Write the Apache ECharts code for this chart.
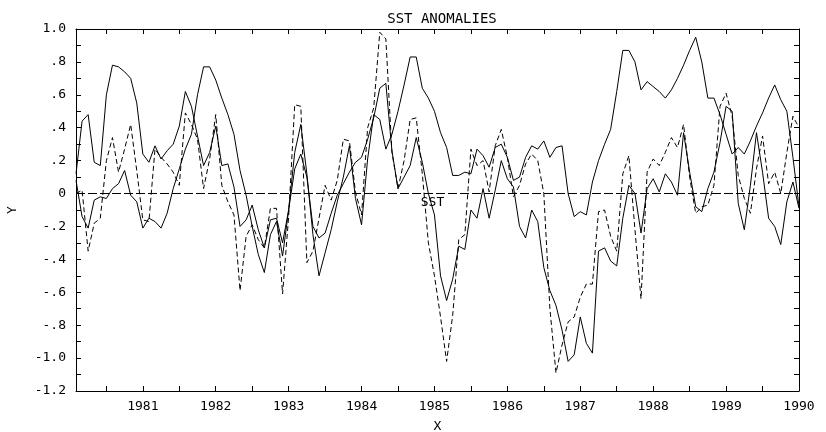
<!DOCTYPE html>
<html>
	<head>
		<meta charset="utf-8" />
		<title>SST ANOMALIES</title>
		<script src="https://cdn.jsdelivr.net/npm/echarts@6/dist/echarts.min.js"></script>
		<style>
			body { margin: 0; background: #fff; }
			#chart { width: 826px; height: 432px; }
		</style>
	</head>
	<body>
		<div id="chart"></div>
	<script type="text/javascript">
		// monthly values, Feb 1980 .. Jan 1990 (plotted at 1980 + n/12)
		var startYear = 1980;
		var solid1 = [0.12,0.44,0.48,0.19,0.17,0.60,0.78,0.77,0.74,0.70,0.55,0.24,
			0.19,0.29,0.21,0.26,0.30,0.41,0.62,0.53,0.35,0.17,0.25,0.41,
			0.17,0.18,0.04,-0.20,-0.16,-0.07,-0.22,-0.33,-0.16,-0.15,-0.30,-0.10,
			0.15,0.24,0.10,-0.20,-0.27,-0.24,-0.12,-0.01,0.06,0.13,0.19,0.22,
			0.33,0.46,0.64,0.67,0.26,0.03,0.10,0.17,0.34,0.19,0.00,-0.13,
			-0.50,-0.65,-0.52,-0.32,-0.34,-0.10,-0.15,0.03,-0.15,0.02,0.20,0.09,
			0.04,-0.20,-0.27,-0.10,-0.17,-0.45,-0.59,-0.68,-0.83,-1.02,-0.98,-0.75,
			-0.91,-0.97,-0.35,-0.33,-0.41,-0.44,-0.15,0.05,0.00,-0.24,0.03,0.09,
			0.01,0.12,0.07,-0.01,0.37,0.13,-0.08,-0.11,0.03,0.13,0.31,0.53,
			0.50,-0.06,-0.22,0.05,0.37,0.13,-0.15,-0.20,-0.31,-0.05,0.07,-0.09];
		var solid2 = [0.08,-0.14,-0.21,-0.04,-0.02,-0.03,0.03,0.06,0.14,-0.01,-0.05,-0.21,
			-0.15,-0.17,-0.21,-0.12,0.03,0.15,0.27,0.36,0.60,0.77,0.77,0.69,
			0.58,0.48,0.36,0.14,-0.01,-0.20,-0.37,-0.48,-0.25,-0.17,-0.38,-0.10,
			0.25,0.42,0.12,-0.25,-0.50,-0.36,-0.22,-0.05,0.10,0.29,-0.03,-0.19,
			0.21,0.48,0.45,0.27,0.36,0.50,0.66,0.83,0.83,0.64,0.58,0.50,
			0.37,0.28,0.11,0.11,0.13,0.12,0.27,0.23,0.16,0.28,0.30,0.22,
			0.08,0.10,0.22,0.29,0.27,0.32,0.22,0.28,0.29,0.00,-0.14,-0.11,
			-0.13,0.07,0.20,0.30,0.39,0.62,0.87,0.87,0.80,0.63,0.68,0.65,
			0.62,0.58,0.63,0.70,0.78,0.87,0.95,0.80,0.58,0.58,0.48,0.36,
			0.24,0.28,0.24,0.32,0.41,0.49,0.58,0.66,0.57,0.50,0.22,-0.08];
		var dashed = [0.00,0.02,-0.35,-0.18,-0.15,0.20,0.34,0.13,0.27,0.42,0.14,-0.16,
			-0.17,0.27,0.22,0.18,0.13,0.05,0.49,0.42,0.33,0.03,0.21,0.48,
			0.05,-0.05,-0.13,-0.59,-0.26,-0.19,-0.28,-0.33,-0.09,-0.09,-0.61,-0.14,
			0.54,0.53,-0.42,-0.35,-0.15,0.05,-0.04,0.08,0.33,0.32,0.01,-0.13,
			0.40,0.52,0.98,0.94,0.25,0.03,0.20,0.45,0.46,0.12,-0.30,-0.50,
			-0.75,-1.02,-0.74,-0.28,-0.25,0.27,0.17,0.20,0.01,0.29,0.39,0.22,
			-0.02,0.05,0.18,0.24,0.20,0.00,-0.70,-1.09,-0.92,-0.78,-0.75,-0.63,
			-0.55,-0.55,-0.11,-0.10,-0.26,-0.35,0.12,0.23,-0.22,-0.64,0.13,0.21,
			0.17,0.25,0.34,0.28,0.42,0.10,-0.12,-0.08,-0.07,0.05,0.53,0.61,
			0.47,0.11,-0.03,-0.12,0.15,0.35,0.06,0.13,0.00,0.25,0.47,0.40];

		var yearLabels = [1981,1982,1983,1984,1985,1986,1987,1988,1989,1990];
		var xTicks = [1980.5,1981,1981.5,1982,1982.5,1983,1983.5,1984,1984.5,1985,
			1985.5,1986,1986.5,1987,1987.5,1988,1988.5,1989,1989.5,1990];
		var yTicks = [-1.2,-1.1,-1.0,-0.9,-0.8,-0.7,-0.6,-0.5,-0.4,-0.3,-0.2,-0.1,
			0,0.1,0.2,0.3,0.4,0.5,0.6,0.7,0.8,0.9,1.0];

		function pairs(vals) {
			return vals.map(function (v, k) { return [startYear + (k + 1) / 12, v]; });
		}
		function yFmt(v) {
			if (Math.abs(v) < 1e-9) return '0';
			var s = Math.abs(v).toFixed(1);
			if (s.charAt(0) === '0') s = s.substring(1);
			return (v < 0 ? '-' : '') + s;
		}

		var font = 'DejaVu Sans Mono';
		var black = '#000';
		var txt = { color: black, fontFamily: font, fontSize: 13 };

		var xBase = {
			type: 'value', min: startYear + 1 / 12, max: 1990,
			axisLine: { show: true, onZero: false, lineStyle: { color: black, width: 1 } },
			axisTick: { show: true, inside: true, length: 5, customValues: xTicks, lineStyle: { color: black } },
			splitLine: { show: false }
		};
		var yBase = {
			type: 'value', min: -1.2, max: 1.0, interval: 0.2,
			axisLine: { show: true, onZero: false, lineStyle: { color: black, width: 1 } },
			axisTick: { show: true, inside: true, length: 5, customValues: yTicks, lineStyle: { color: black } },
			splitLine: { show: false }
		};

		var chart = echarts.init(document.getElementById('chart'), null, { renderer: 'canvas' });
		var option = {
			animation: false,
			backgroundColor: '#fff',
			title: {
				text: 'SST ANOMALIES', left: 437, top: 7, textAlign: 'center',
				textStyle: { color: black, fontFamily: font, fontSize: 14, fontWeight: 'normal' }
			},
			grid: { left: 76, right: 27, top: 29, bottom: 41, containLabel: false, outerBoundsMode: 'none' },
			xAxis: [
				Object.assign({}, xBase, {
					position: 'bottom', name: 'X', nameLocation: 'middle', nameGap: 29,
					nameTextStyle: txt,
					axisLabel: Object.assign({
						show: true, margin: 9, customValues: yearLabels,
						formatter: function (v) { return String(Math.round(v)); }
					}, txt)
				}),
				Object.assign({}, xBase, { position: 'top', axisLabel: { show: false } })
			],
			yAxis: [
				Object.assign({}, yBase, {
					position: 'left', name: 'Y', nameLocation: 'middle', nameGap: 57, nameRotate: 90,
					nameTextStyle: txt,
					axisLabel: Object.assign({ show: true, margin: 10, formatter: yFmt }, txt)
				}),
				Object.assign({}, yBase, { position: 'right', axisLabel: { show: false } })
			],
			series: [
				{
					type: 'line', data: pairs(solid1), symbol: 'none', silent: true,
					lineStyle: { color: black, width: 1 },
					markLine: {
						silent: true, symbol: 'none',
						lineStyle: { color: black, width: 1, type: [9, 3] },
						label: { show: true, position: 'insideMiddleBottom', formatter: 'SST', color: black, fontFamily: font, fontSize: 13, distance: 3, offset: [-5, 0] },
						data: [{ yAxis: 0 }]
					}
				},
				{
					type: 'line', data: pairs(solid2), symbol: 'none', silent: true,
					lineStyle: { color: black, width: 1 }
				},
				{
					type: 'line', data: pairs(dashed), symbol: 'none', silent: true,
					lineStyle: { color: black, width: 1, type: [5, 3] }
				}
			]
		};
		chart.setOption(option);
	</script>
	</body>
</html>
